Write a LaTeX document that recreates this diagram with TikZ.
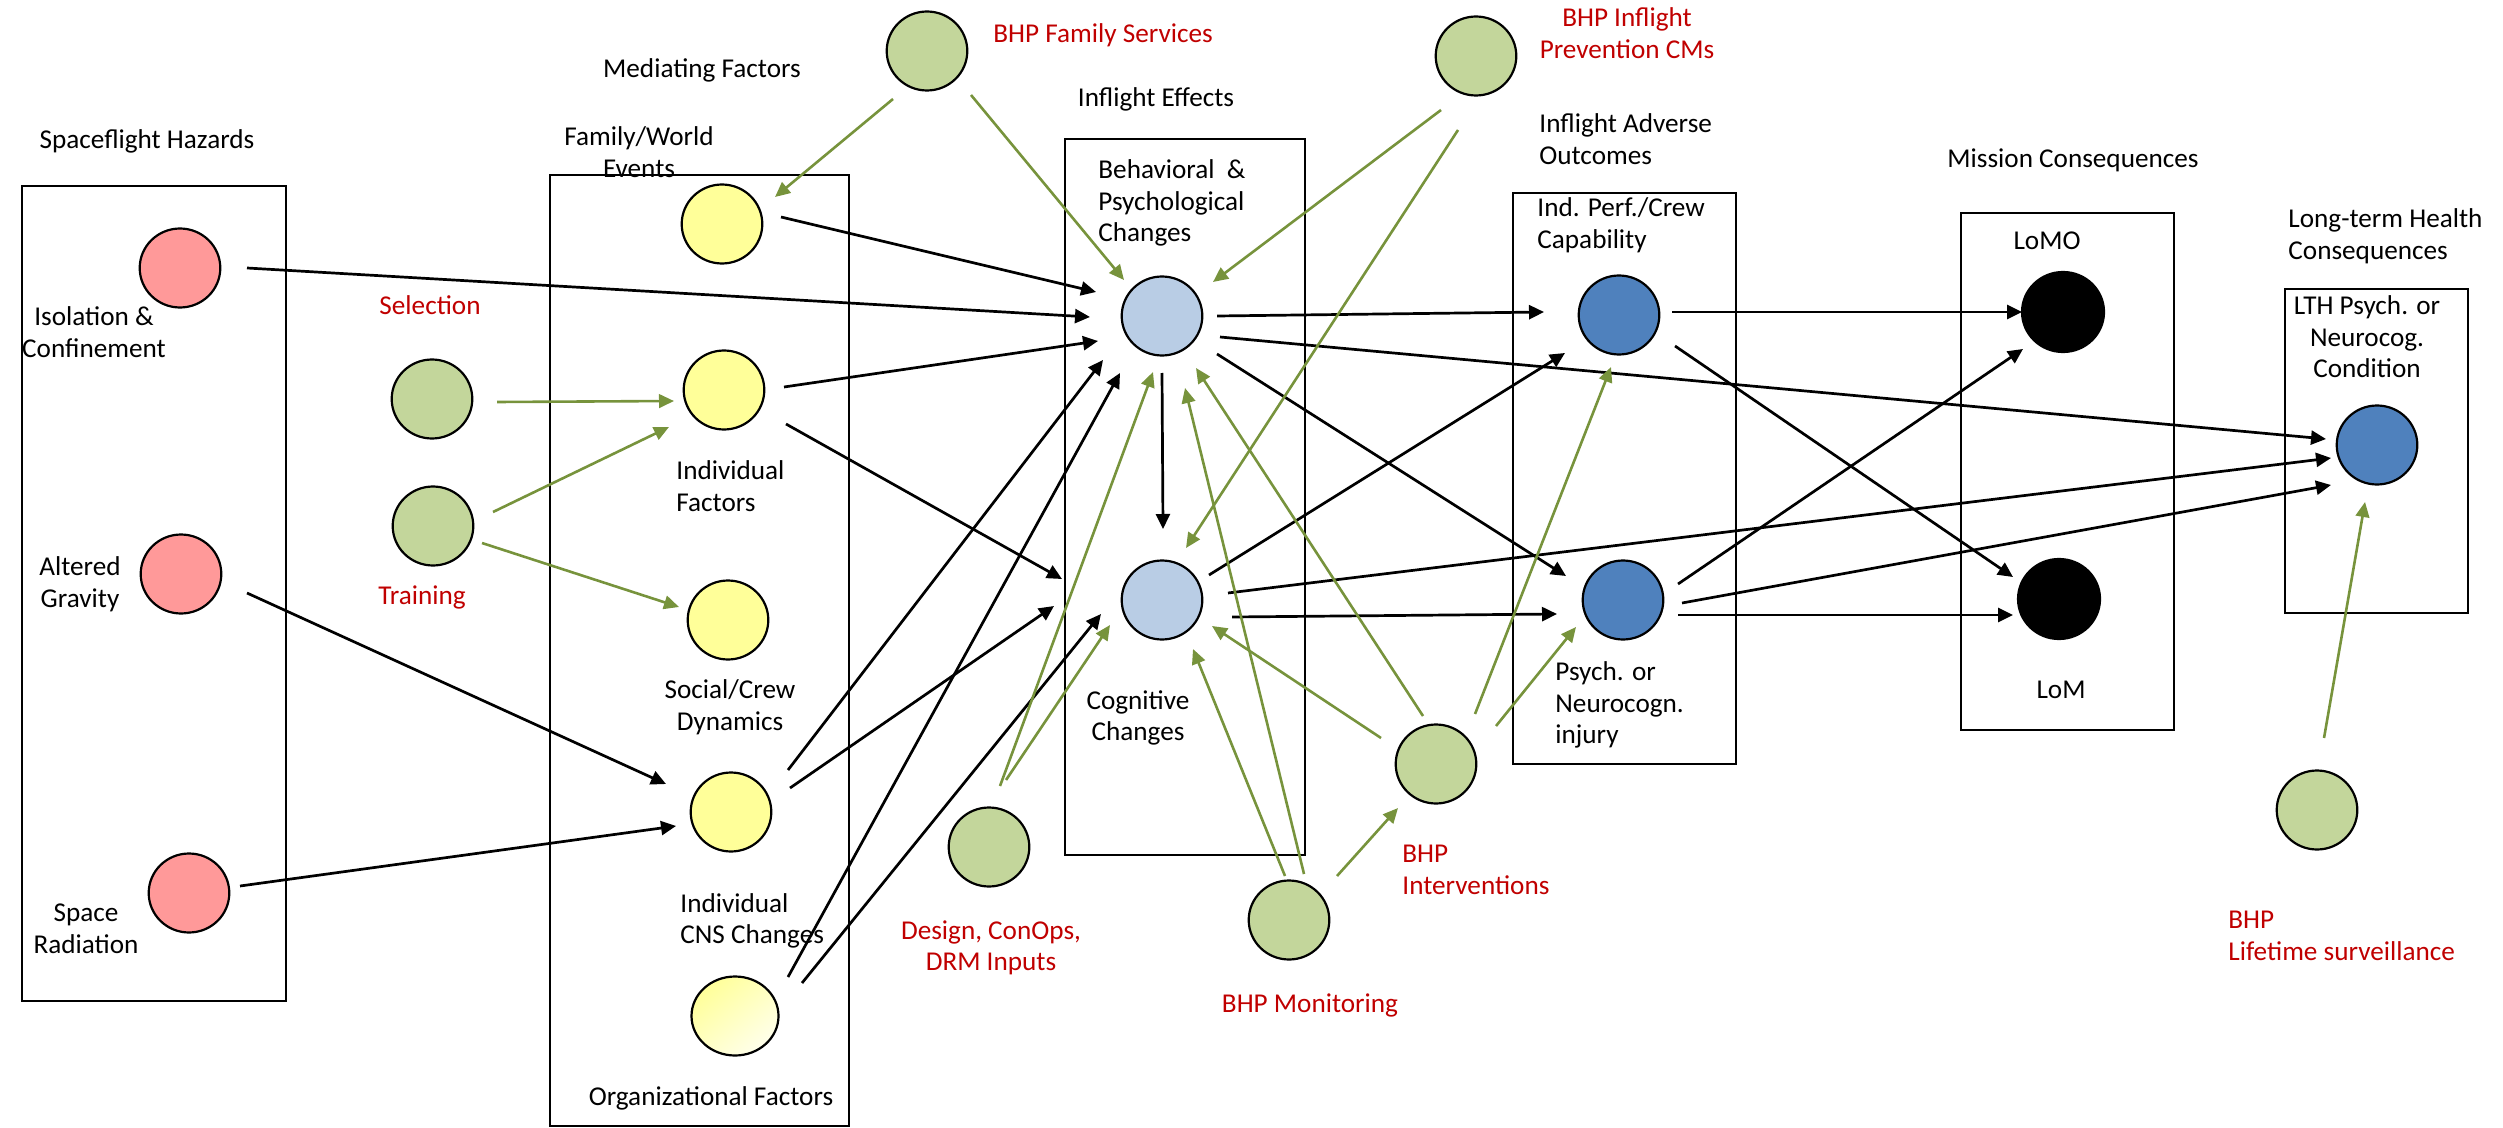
\documentclass[tikz,border=0pt]{standalone}
\usepackage{fontspec}
\setmainfont{Carlito}
\usetikzlibrary{arrows.meta,calc,shapes.geometric}
\definecolor{redc}{HTML}{FF9999}
\definecolor{grnc}{HTML}{C3D69B}
\definecolor{yelc}{HTML}{FFFF99}
\definecolor{lblc}{HTML}{B9CDE5}
\definecolor{dblc}{HTML}{4F81BD}
\definecolor{arrg}{HTML}{77933C}
\definecolor{txtr}{HTML}{C00000}
\begin{document}
\begin{tikzpicture}[x=0.5pt,y=-0.5pt,
  dot/.style={draw=black, line width=1.1pt, ellipse, inner sep=0pt, minimum width=40.3pt, minimum height=39.5pt},
  haz/.style={dot, fill=redc},
  med/.style={dot, fill=grnc},
  yel/.style={dot, fill=yelc},
  lbl/.style={dot, fill=lblc},
  dbl/.style={dot, fill=dblc},
  blkdot/.style={dot, fill=black, minimum width=41pt, minimum height=40pt},
  txt/.style={font=\fontsize{13.6}{15.8}\selectfont, inner sep=0pt},
  rtxt/.style={txt, text=txtr},
  frame/.style={draw=black, line width=0.95pt},
  blk/.style={draw=black, line width=1.35pt, -{Triangle[length=7.5pt,width=7pt]}},
  grn/.style={draw=arrg, line width=1.3pt, -{Triangle[length=7.5pt,width=6.8pt,fill=arrg]}}
]
\useasboundingbox (0,0) rectangle (2503,1128);

% ---- labels ----
\node[txt] (tHaz) at (147,141) {Spaceflight Hazards};
\node[txt] (tMed) at (702,70) {Mediating Factors};
\node[txt,align=center] (tFam) at (639,152) {Family/World\\Events};
\node[txt,align=center] (tIso) at (94,332) {Isolation \&\\Confinement};
\node[txt,align=center] (tAlt) at (80,584) {Altered\\Gravity};
\node[txt,align=center] (tSpa) at (86,929) {Space\\Radiation};
\node[rtxt] (tSel) at (430,305) {Selection};
\node[rtxt] (tTra) at (422,597) {Training};
\node[txt,align=left,anchor=west] (tInd) at (676,486) {Individual\\Factors};
\node[txt,align=center] (tSoc) at (730,707) {Social/Crew\\Dynamics};
\node[txt,align=left,anchor=west] (tCNS) at (680,921) {Individual\\CNS Changes};
\node[txt] (tOrg) at (711,1098) {Organizational Factors};
\node[rtxt,anchor=west] (tFS) at (993,35) {BHP Family Services};
\node[txt] (tEff) at (1156,99) {Inflight Effects};
\node[rtxt,align=center] (tPrev) at (1627,33) {BHP Inflight\\Prevention CMs};
\node[txt,align=left,anchor=west] (tBeh) at (1098,203) {Behavioral\ \ \&\\Psychological\\Changes};
\node[txt,align=left,anchor=west] (tAdv) at (1539,139) {Inflight Adverse\\Outcomes};
\node[txt,align=left,anchor=west] (tPerf) at (1537,225) {Ind. Perf./Crew\\Capability};
\node[txt,align=center] (tCog) at (1138,718) {Cognitive\\Changes};
\node[rtxt,align=center] (tDes) at (991,948) {Design, ConOps,\\DRM Inputs};
\node[rtxt] (tMon) at (1310,1005) {BHP Monitoring};
\node[rtxt,align=left,anchor=west] (tInt) at (1402,870) {BHP\\Interventions};
\node[txt,align=left,anchor=west] (tPsy) at (1555,705) {Psych. or\\Neurocogn.\\injury};
\node[txt] (tMis) at (2073,160) {Mission Consequences};
\node[txt] (tLoMO) at (2047,241) {LoMO};
\node[txt] (tLoM) at (2061,690) {LoM};
\node[txt,align=left,anchor=west] (tLT) at (2288,236) {Long-term Health\\Consequences};
\node[txt,align=center] (tLTH) at (2367,337) {LTH Psych. or\\Neurocog.\\Condition};
\node[rtxt,align=left,anchor=west] (tLife) at (2228,936) {BHP\\Lifetime surveillance};

% ---- group frames ----
\draw[frame] (22,186) rectangle (286,1001);
\draw[frame] (550,175) rectangle (849,1126);
\draw[frame] (1065,139) rectangle (1305,855);
\draw[frame] (1513,193) rectangle (1736,764);
\draw[frame] (1961,213) rectangle (2174,730);
\draw[frame] (2285,289) rectangle (2468,613);

% ---- circles ----
\node[haz] (R1) at (180,268) {};
\node[haz] (R2) at (181,574) {};
\node[haz] (R3) at (189,893) {};
\node[med] (Gsel) at (432,399) {};
\node[med] (Gtrain) at (433,526) {};
\node[yel] (Y1) at (722,224) {};
\node[yel] (Y2) at (724,390) {};
\node[yel] (Y3) at (728,620) {};
\node[yel] (Y4) at (731,812) {};
\node[dot, minimum width=43.5pt, top color=yelc, bottom color=yelc!20!white, shading angle=40] (Y5) at (735,1016) {};
\node[med] (Gfam) at (927,51) {};
\node[med] (Gprev) at (1476,56) {};
\node[lbl] (B1) at (1162,316) {};
\node[lbl] (B2) at (1162,600) {};
\node[med] (Gdes) at (989,847) {};
\node[med] (Gmon) at (1289,920) {};
\node[med] (Gint) at (1436,764) {};
\node[dbl] (D1) at (1619,315) {};
\node[dbl] (D2) at (1623,600) {};
\node[dbl] (D3) at (2377,445) {};
\node[blkdot] (K1) at (2063,312) {};
\node[blkdot] (K2) at (2059,599) {};
\node[med] (Glife) at (2317,810) {};

% ---- black connectors ----
\draw[blk] ($(R1)+(67,0)$) -- ($(B1)+(-72,1)$);
\draw[blk] ($(R2)+(66,19)$) -- ($(Y4)+(-65,-28)$);
\draw[blk] ($(R3)+(51,-7)$) -- ($(Y4)+(-55,14)$);
\draw[blk] ($(Y1)+(59,-7)$) -- ($(B1)+(-66,-24)$);
\draw[blk] ($(Y2)+(60,-3)$) -- ($(B1)+(-64,25)$);
\draw[blk] ($(Y2)+(62,34)$) -- ($(B2)+(-100,-21)$);
\draw[blk] ($(Y4)+(57,-42)$) -- ($(B1)+(-59,44)$);
\draw[blk] ($(Y4)+(59,-24)$) -- ($(B2)+(-108,6)$);
\draw[blk] ($(Y5)+(53,-39)$) -- ($(B1)+(-42,57)$);
\draw[blk] ($(Y5)+(67,-33)$) -- ($(B2)+(-61,14)$);
\draw[blk] ($(B1)+(0,57)$) -- ($(B2)+(1,-71)$);
\draw[blk] ($(B1)+(55,0)$) -- ($(D1)+(-75,-3)$);
\draw[blk] ($(B1)+(55,38)$) -- ($(D2)+(-57,-24)$);
\draw[blk] ($(B1)+(58,21)$) -- ($(D3)+(-51,-6)$);
\draw[blk] ($(B2)+(47,-25)$) -- ($(D1)+(-54,38)$);
\draw[blk] ($(B2)+(70,17)$) -- ($(D2)+(-66,14)$);
\draw[blk] ($(B2)+(66,-7)$) -- ($(D3)+(-46,13)$);
\draw[blk] ($(D1)+(53,-3)$) -- ($(K1)+(-41,0)$);
\draw[blk] ($(D1)+(56,31)$) -- ($(K2)+(-46,-22)$);
\draw[blk] ($(D2)+(55,-16)$) -- ($(K1)+(-40,37)$);
\draw[blk] ($(D2)+(55,15)$) -- ($(K2)+(-46,16)$);
\draw[blk] ($(D2)+(59,3)$) -- ($(D3)+(-46,40)$);

% ---- green (countermeasure) connectors ----
\draw[grn] ($(Gsel)+(65,3)$) -- ($(Y2)+(-50,11)$);
\draw[grn] ($(Gtrain)+(60,-14)$) -- ($(Y2)+(-55,37)$);
\draw[grn] ($(Gtrain)+(49,17)$) -- ($(Y3)+(-49,-13)$);
\draw[grn] ($(Gfam)+(-34,48)$) -- ($(Y1)+(53,-27)$);
\draw[grn] ($(Gfam)+(44,44)$) -- ($(B1)+(-38,-36)$);
\draw[grn] ($(Gprev)+(-35,54)$) -- ($(B1)+(51,-34)$);
\draw[grn] ($(Gprev)+(-18,74)$) -- ($(B2)+(24,-52)$);
\draw[grn] ($(Gdes)+(11,-61)$) -- ($(B1)+(-9,56)$);
\draw[grn] ($(Gdes)+(17,-67)$) -- ($(B2)+(-52,25)$);
\draw[grn] ($(Gmon)+(15,-46)$) -- ($(B1)+(23,72)$);
\draw[grn] ($(Gmon)+(-4,-44)$) -- ($(B2)+(31,49)$);
\draw[grn] ($(Gmon)+(48,-44)$) -- ($(Gint)+(-38,44)$);
\draw[grn] ($(Gint)+(-13,-48)$) -- ($(B1)+(34,52)$);
\draw[grn] ($(Gint)+(-55,-26)$) -- ($(B2)+(50,26)$);
\draw[grn] ($(Gint)+(39,-50)$) -- ($(D1)+(-8,52)$);
\draw[grn] ($(Gint)+(60,-38)$) -- ($(D2)+(-47,27)$);
\draw[grn] ($(Glife)+(7,-72)$) -- ($(D3)+(-12,57)$);
\end{tikzpicture}
\end{document}
